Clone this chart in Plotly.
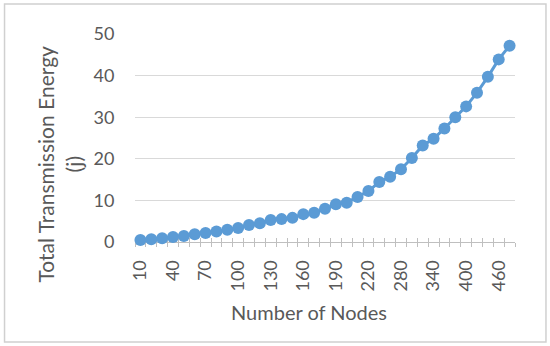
import plotly.graph_objects as go

nodes = [10, 20, 30, 40, 50, 60, 70, 80, 90, 100, 110, 120, 130, 140, 150, 160, 170, 180,
         190, 200, 210, 220, 240, 260, 280, 300, 320, 340, 360, 380, 400, 420, 440, 460, 480]
energy = [0.48, 0.64, 0.9, 1.2, 1.45, 1.85, 2.15, 2.55, 2.95, 3.35, 4.1, 4.5, 5.3, 5.5, 5.8,
          6.7, 7.05, 8.0, 9.05, 9.45, 10.8, 12.25, 14.4, 15.7, 17.5, 20.2, 23.2, 24.8, 27.3,
          30.0, 32.6, 35.9, 39.7, 43.9, 47.2]
y_ticks = [0, 10, 20, 30, 40, 50]

cats = [str(n) for n in nodes]
label_cats = cats[::3]

W, H = 550, 346
L, R, T, B = 134.6, 515, 34, 242
def px(x):
    return (x - L) / (R - L)
def py(y):
    return (B - y) / (B - T)

GRAY = "#595959"
FONT = "Lato"
BLUE = "#5B9BD5"

fig = go.Figure()
fig.add_trace(go.Scatter(x=cats, y=energy, mode="lines+markers",
                         line=dict(color=BLUE, width=3),
                         marker=dict(color=BLUE, size=12),
                         cliponaxis=False, showlegend=False))
for ax in ["x2", "x3"]:
    fig.add_trace(go.Scatter(x=cats, y=energy, mode="markers", xaxis=ax,
                             marker=dict(opacity=0), hoverinfo="skip", showlegend=False))

common = dict(type="category", categoryorder="array", categoryarray=cats,
              range=[-0.5, len(cats) - 0.5], layer="below traces")
fig.update_layout(
    width=W, height=H,
    margin=dict(l=L, r=W - R, t=T, b=H - B),
    paper_bgcolor="white", plot_bgcolor="white",
    font=dict(family=FONT, color=GRAY, size=18),
    xaxis=dict(**common, tickmode="array", tickvals=label_cats, ticktext=label_cats,
               tickangle=-90, ticks="outside", ticklen=10, tickcolor="rgba(0,0,0,0)",
               showgrid=False, showline=False, zeroline=False,
               tickfont=dict(family=FONT, size=18, color=GRAY)),
    xaxis2=dict(**common, overlaying="x", tickmode="array", tickvals=cats,
                tickson="boundaries", ticks="outside", ticklen=4, tickcolor="#BFBFBF",
                showticklabels=False, showgrid=False, showline=True, linecolor="#BFBFBF",
                linewidth=1, zeroline=False),
    xaxis3=dict(**common, overlaying="x", tickmode="array", tickvals=cats,
                tickson="boundaries", ticks="inside", ticklen=4, tickcolor="#BFBFBF",
                showticklabels=False, showgrid=False, showline=False, zeroline=False),
    yaxis=dict(range=[0, 50], tickmode="array", tickvals=y_ticks, showgrid=True,
               gridcolor="#D9D9D9", gridwidth=1, zeroline=False, showline=False,
               ticks="outside", ticklen=16, tickcolor="rgba(0,0,0,0)",
               tickfont=dict(family=FONT, size=18, color=GRAY), layer="below traces"),
    annotations=[
        dict(text="Number of Nodes", xref="paper", yref="paper", x=px(309), y=py(312),
             xanchor="center", yanchor="middle", showarrow=False,
             font=dict(family=FONT, size=20, color=GRAY)),
        dict(text="Total Transmission Energy<br>(j)", xref="paper", yref="paper",
             x=px(59), y=py(164), xanchor="center", yanchor="middle", showarrow=False,
             textangle=-90, font=dict(family=FONT, size=21, color=GRAY)),
    ],
    shapes=[dict(type="rect", xref="paper", yref="paper",
                 x0=px(4), x1=px(546), y0=py(342), y1=py(4),
                 line=dict(color="#D0D0D0", width=1.5), fillcolor="rgba(0,0,0,0)",
                 layer="above")],
)

fig.write_html("out.html", config={"displayModeBar": False},
               post_script="document.body.style.margin='0';document.body.style.overflow='hidden';")
